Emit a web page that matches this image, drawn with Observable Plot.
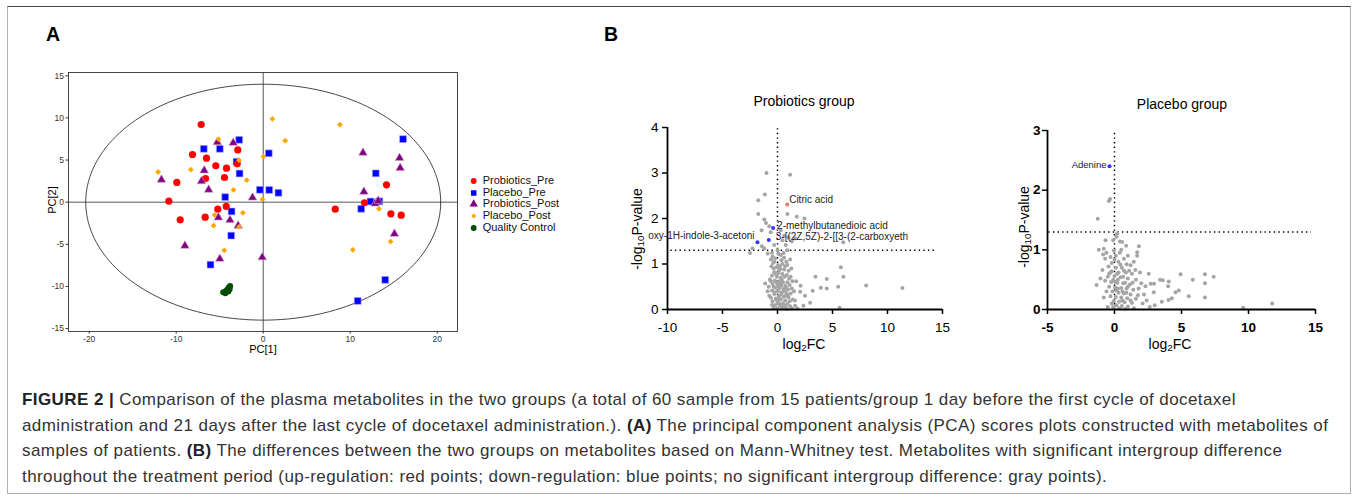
<!DOCTYPE html>
<html><head><meta charset="utf-8">
<script src="https://cdn.jsdelivr.net/npm/d3@7"></script>
<script src="https://cdn.jsdelivr.net/npm/@observablehq/plot@0.6"></script>
<style>
body{margin:0;background:#fff;}
#fig{position:relative;width:1358px;height:498px;overflow:hidden;font-family:"Liberation Sans",Arial,sans-serif;color:#000;}
.abs{position:absolute;}
.c{position:absolute;transform:translate(-50%,-50%);white-space:nowrap;line-height:1;}
.rot{position:absolute;transform:translate(-50%,-50%) rotate(-90deg);white-space:nowrap;line-height:1;}
sub{font-size:70%;vertical-align:-0.25em;line-height:0;}
#caption{position:absolute;left:22px;top:387px;font-size:17px;letter-spacing:0.42px;line-height:25.7px;color:#333;white-space:nowrap;}
#caption b{color:#222;}
.leg{position:absolute;left:468px;font-size:11px;line-height:1;white-space:nowrap;color:#111;}
.leg svg{position:absolute;left:0;top:-5px;overflow:visible;}
.leg span{position:absolute;left:14.7px;top:-6px;}
</style></head><body>
<div id="fig">
  <div class="abs" style="left:7px;top:6px;width:1344px;height:488px;box-sizing:border-box;border:1px solid #b0b0b0;border-top-color:#444;"></div>
  <div class="abs" style="left:46px;top:23px;font-size:19.5px;font-weight:bold;">A</div>
  <div class="abs" style="left:604px;top:23px;font-size:19.5px;font-weight:bold;">B</div>
  <div id="pca" class="abs" style="left:20px;top:60px;"></div>
  <div id="legend"></div>
  <div class="c" style="left:263px;top:349px;font-size:11px;">PC[1]</div>
  <div class="rot" style="left:52px;top:200px;font-size:11px;">PC[2]</div>
  <div id="prob" class="abs" style="left:600px;top:85px;"></div>
  <div id="pla" class="abs" style="left:990px;top:85px;"></div>
  <div class="c" style="left:804px;top:101px;font-size:14px;">Probiotics group</div>
  <div class="c" style="left:1182px;top:104px;font-size:14px;">Placebo group</div>
  <div class="rot" style="left:637px;top:229px;font-size:14px;">-log<sub>10</sub>P-value</div>
  <div class="rot" style="left:1024px;top:227px;font-size:14px;">-log<sub>10</sub>P-value</div>
  <div class="c" style="left:804px;top:344px;font-size:14px;">log<sub>2</sub>FC</div>
  <div class="c" style="left:1170px;top:344px;font-size:14px;">log<sub>2</sub>FC</div>
  <div id="caption"><b>FIGURE 2 |</b> Comparison of the plasma metabolites in the two groups (a total of 60 sample from 15 patients/group 1 day before the first cycle of docetaxel<br>administration and 21 days after the last cycle of docetaxel administration.). <b>(A)</b> The principal component analysis (PCA) scores plots constructed with metabolites of<br>samples of patients. <b>(B)</b> The differences between the two groups on metabolites based on Mann-Whitney test. Metabolites with significant intergroup difference<br>throughout the treatment period (up-regulation: red points; down-regulation: blue points; no significant intergroup difference: gray points).</div>
</div>
<script>
// ---------- Panel A data (PCA scores) ----------
const probioticsPre = [[-7.13,9.22],[-8.13,5.66],[-6.52,5.22],[-5.45,4.32],[-4.22,4.03],[-2.92,6.2],[-2.99,4.55],[-6.63,2.81],[-4.45,2.93],[-9.93,2.34],[-10.85,0.12],[-9.54,-2.09],[-6.67,-1.78],[-5.22,-0.83],[-4.25,-0.51],[14.17,2.06],[11.64,-0.07],[8.28,-0.83],[14.67,-1.38],[15.86,-1.54]];
const placeboPre = [[-6.83,6.33],[-4.99,6.33],[-2.76,7.4],[-3.07,4.8],[-2.72,3.4],[-4.37,0.6],[-3.64,-1.1],[-3.68,-3.97],[-6.06,-7.42],[-0.39,1.47],[0.69,1.45],[1.75,1.11],[0.64,5.8],[16.07,7.48],[12.94,3.42],[11.26,-0.79],[12.33,0.08],[13.35,0.1],[14.02,-9.22],[10.86,-11.72]];
const probioticsPost = [[-5.28,7.12],[-3.45,7.04],[-11.7,2.66],[-6.78,3.76],[-7.1,2.48],[-6.27,1.47],[-1.23,0.54],[-5.15,-1.82],[-3.82,-2.13],[-2.88,-2.79],[-9.0,-5.17],[-4.99,-6.73],[-0.11,-6.55],[11.47,5.86],[11.57,1.23],[15.67,5.25],[15.74,4.06],[12.85,-0.17],[13.22,0.16],[15.08,-3.76]];
const placeboPost = [[1.05,9.89],[8.81,9.2],[2.53,7.3],[-5.14,7.48],[-2.78,4.98],[0.02,5.41],[-12.08,3.58],[-8.32,3.86],[-1.9,2.61],[-3.41,1.45],[-0.08,0.32],[-5.58,-1.52],[-5.7,-2.79],[-2.34,-1.27],[-2.78,-2.91],[-4.48,-5.72],[13.3,-0.79],[14.64,-4.67],[10.3,-5.66]];
const qualityControl = [[-4.6,-10.7],[-4.35,-10.8],[-4.3,-10.55],[-4.0,-10.6],[-4.1,-10.35],[-3.95,-10.1],[-3.85,-10.3],[-3.8,-9.95]];
const pcaXTicks = [-20,-10,0,10,20];
const pcaYTicks = [-15,-10,-5,0,5,10,15];
const ellipseRadii = [20.4, 14.0]; // 95% confidence ellipse semi-axes (PC1, PC2)
const groupNames = ["Probiotics_Pre","Placebo_Pre","Probiotics_Post","Placebo_Post","Quality Control"];

// ---------- Panel B data (volcano plots) ----------
const probGray = [
[-1.0,3.0],[1.15,2.96],[-1.15,2.53],[-1.75,2.4],[-1.75,2.1],[0.9,2.1],[1.75,2.04],[2.45,2.0],
[-1.2,1.98],[-1.05,1.9],[-0.75,1.83],[-1.45,1.74],[-0.62,1.7],[0.3,1.74],[0.6,1.62],[1.0,1.58],[1.3,1.5],[0.45,1.52],[1.6,1.56],[5.97,1.48],
[-1.42,1.39],[-0.3,1.42],[0.75,1.42],[-2.27,1.34],[-2.5,1.24],[-1.2,1.34],[0.0,1.3],[0.9,1.3],[-0.9,1.23],[-0.45,1.16],[0.3,1.2],[0.6,1.14],[-0.3,1.05],[1.15,1.1],
[-0.5,1.25],[0.1,1.22],[0.55,1.24],[-0.2,1.12],[0.35,1.08],[0.8,1.05],[-0.4,1.02],[0.05,0.98],
[-0.55,0.95],[-0.1,0.93],[0.25,0.9],[0.6,0.88],[1.0,0.85],[-0.3,0.82],[0.1,0.8],[0.45,0.78],[0.85,0.76],[-0.5,0.74],[-0.05,0.72],[0.3,0.7],[1.2,0.72],[5.76,0.93],
[-0.7,0.66],[-0.25,0.64],[0.15,0.62],[0.5,0.6],[0.9,0.6],[1.35,0.62],[-0.45,0.56],[0.0,0.55],[0.35,0.53],[0.7,0.52],[1.1,0.54],[-0.8,0.5],[-0.2,0.48],[0.2,0.47],[0.55,0.45],[0.95,0.44],[1.3,0.46],[-0.5,0.42],[0.05,0.4],[-1.12,0.57],
[6.0,0.72],[3.45,0.72],[4.48,0.67],[3.94,0.48],[4.48,0.46],[5.52,0.5],[8.06,0.53],[11.36,0.47],[5.64,0.04],[2.97,0.15],[2.36,0.08],[3.2,0.41],[2.06,0.39],[1.58,0.2],[1.82,0.02],[2.1,0.52],[1.7,0.62],[2.5,0.3],
[0.4,0.38],[0.8,0.36],[1.2,0.35],[-0.3,0.34],[-0.75,0.3],[0.15,0.3],[0.55,0.28],[1.0,0.27],[-0.15,0.24],[0.3,0.22],[0.7,0.2],[1.4,0.22],[-0.45,0.18],[0.05,0.16],[0.5,0.14],[0.9,0.12],[-0.2,0.1],[0.25,0.08],[0.65,0.06],[1.15,0.07],[0.0,0.03],[0.4,0.02],[0.85,0.01],[-0.35,0.04],
[0.1,0.5],[0.4,0.65],[0.75,0.3],[-0.1,0.6],[0.6,0.1],[0.2,0.95],[1.25,0.9],[-0.25,0.38],
[-0.6,1.1],[0.45,1.0],[0.7,0.95],[-0.35,0.9],[0.9,0.98],[0.15,0.86],[-0.15,0.78],[0.65,0.72],[1.05,0.68],[-0.6,0.62],[0.25,0.57],[0.8,0.48],[-0.35,0.5],[1.5,0.4],[-0.6,0.26],[0.35,0.34],[1.1,0.18],[-0.05,0.2],[0.45,0.1],[0.75,0.04],[1.3,0.02],[-0.5,0.1],[0.2,0.12],[0.95,0.32],[-0.9,0.4],[1.6,0.08],[0.6,0.42],[0.1,0.26]
];
const probUp = [{x:0.88, y:2.31, name:"Citric acid"}];
const probDown = [
  {x:-0.4, y:1.79, name:"2-methylbutanedioic acid"},
  {x:-0.79, y:1.53, name:"3-[(2Z,5Z)-2-[[3-(2-carboxyeth"},
  {x:-1.82, y:1.48, name:"oxy-1H-indole-3-acetoni"}
];
const plaGray = [
[-0.42,1.82],[-0.33,1.85],[-1.25,1.52],[0.2,1.28],[0.15,1.22],[-0.67,1.16],[-0.1,1.16],[0.4,1.14],[0.57,1.13],[0.87,1.07],[1.82,1.06],
[-1.17,1.0],[-0.8,1.02],[-0.6,0.95],[-0.85,0.92],[-0.05,0.99],[1.69,0.96],[1.69,0.9],[-0.3,0.88],[0.7,0.85],[-0.7,0.85],[0.0,0.84],[1.44,0.8],[0.3,0.8],[-0.2,0.78],[0.9,0.76],[1.2,0.74],[-0.45,0.72],[0.1,0.7],[0.55,0.7],[1.55,0.66],[-0.9,0.66],
[-0.2,0.64],[0.3,0.62],[0.85,0.62],[1.3,0.6],[2.56,0.6],[4.93,0.59],[6.75,0.59],[7.4,0.55],[5.84,0.5],[-1.05,0.52],[-0.5,0.55],[0.0,0.56],[0.45,0.54],[1.0,0.52],[1.6,0.5],[3.4,0.5],[3.6,0.49],[4.05,0.47],[6.75,0.44],
[-1.34,0.41],[-0.7,0.48],[-0.25,0.46],[0.2,0.45],[0.65,0.44],[1.15,0.42],[2.0,0.44],[2.7,0.43],[2.95,0.43],[2.31,0.39],[4.0,0.39],[-0.4,0.38],[0.05,0.37],[0.5,0.36],[0.9,0.35],[1.4,0.33],[4.8,0.32],[4.55,0.29],[2.93,0.29],
[-0.15,0.3],[0.3,0.28],[0.7,0.27],[1.2,0.25],[1.75,0.24],[-0.3,0.22],[0.1,0.21],[0.5,0.2],[0.95,0.19],[5.54,0.22],[6.75,0.2],[4.28,0.19],[4.03,0.16],[3.53,0.13],[1.6,0.18],
[-0.05,0.14],[0.35,0.13],[0.75,0.12],[1.3,0.11],[2.1,0.1],[0.15,0.07],[0.55,0.06],[1.0,0.05],[-0.1,0.04],[0.35,0.02],[0.8,0.01],[1.45,0.02],[2.63,0.04],[9.6,0.03],[11.77,0.1],
[0.2,0.6],[0.6,0.3],[-0.1,0.5],[0.4,0.95],[0.25,0.35],[0.7,0.65],
[-0.6,0.3],[-0.8,0.2],[-0.4,0.6],[0.1,0.9],[0.5,1.0],[1.0,0.9],[0.8,0.45],[0.45,0.75],[1.1,0.65],[0.25,0.5],[-0.2,0.1],[0.6,0.15],[1.8,0.35],[2.2,0.25],[1.35,0.45],[0.15,0.32],[0.9,0.28],[-0.3,0.62],[0.05,0.46],[1.2,0.15],[-0.5,0.04],[0.65,0.55],[2.4,0.15],[3.0,0.07],[1.9,0.62],[1.0,0.38]
];
const plaDown = [{x:-0.37, y:2.4, name:"Adenine"}];
const probXTicks = [-10,-5,0,5,10,15];
const probYTicks = [0,1,2,3,4];
const plaXTicks = [-5,0,5,10,15];
const plaYTicks = [0,1,2,3];
const pThreshold = 1.3; // -log10(0.05)

const FONT = "'Liberation Sans', Arial, sans-serif";
const px = d => d[0], py = d => d[1];
const fmt = d => String(d);

// ---------- Panel A ----------
const ellipse = d3.range(0, 361, 2).map(a => ({x: ellipseRadii[0]*Math.cos(a*Math.PI/180), y: ellipseRadii[1]*Math.sin(a*Math.PI/180)}));
const pca = Plot.plot({
  width: 450, height: 300, marginLeft: 48, marginRight: 13, marginTop: 12, marginBottom: 29,
  x: {domain: [-22.38, 22.33]}, y: {domain: [-15.35, 15.39]},
  style: {fontFamily: FONT, fontSize: "8.5px", color: "#333", background: "transparent", overflow: "visible"},
  marks: [
    Plot.frame({stroke: "#333", strokeWidth: 0.9}),
    Plot.ruleX([0], {stroke: "#444", strokeWidth: 0.9}),
    Plot.ruleY([0], {stroke: "#444", strokeWidth: 0.9}),
    Plot.line(ellipse, {x: "x", y: "y", stroke: "#333", strokeWidth: 0.9}),
    Plot.dot(placeboPre, {x: px, y: py, symbol: "square", r: 3.85, fill: "#0000ff", stroke: "#a8a8ff", strokeWidth: 0.6}),
    Plot.dot(probioticsPre, {x: px, y: py, symbol: "circle", r: 3.6, fill: "#ff0000"}),
    Plot.dot(probioticsPost, {x: px, y: py, symbol: "triangle", r: 3.2, fill: "#800080", stroke: "#c9a0c9", strokeWidth: 0.6}),
    Plot.dot(placeboPost, {x: px, y: py, symbol: "diamond2", r: 2.6, fill: "#ffa500"}),
    Plot.dot(qualityControl, {x: px, y: py, symbol: "circle", r: 3, fill: "#004d00"}),
    Plot.axisX({ticks: pcaXTicks, tickFormat: fmt, tickSize: 2.5, tickPadding: 1.5, label: null}),
    Plot.axisY({ticks: pcaYTicks, tickFormat: fmt, tickSize: 2.5, tickPadding: 2, label: null})
  ]
});
document.getElementById("pca").appendChild(pca);

// legend
const legSyms = [
  {type: d3.symbolCircle, size: 26, fill: "#ff0000"},
  {type: d3.symbolSquare, size: 30, fill: "#0000ff"},
  {type: d3.symbolTriangle, size: 30, fill: "#800080"},
  {type: d3.symbolDiamond2, size: 16, fill: "#ffa500"},
  {type: d3.symbolCircle, size: 26, fill: "#004d00"}
];
const legend = d3.select("#legend");
groupNames.forEach((name, i) => {
  const row = legend.append("div").attr("class", "leg").style("top", (181 + i*11.7) + "px");
  const svg = row.append("svg").attr("width", 10).attr("height", 10);
  svg.append("path").attr("transform", "translate(5.7,5)").attr("d", d3.symbol(legSyms[i].type, legSyms[i].size)()).attr("fill", legSyms[i].fill);
  row.append("span").text(name);
});

// ---------- Panel B: Probiotics ----------
const dotted = {stroke: "#000", strokeWidth: 1.5, strokeDasharray: "1.4,3.2"};
const prob = Plot.plot({
  width: 360, height: 275, marginLeft: 67, marginRight: 18, marginTop: 42, marginBottom: 51,
  x: {domain: [-10, 15]}, y: {domain: [0, 4]},
  style: {fontFamily: FONT, fontSize: "13.5px", color: "#000", background: "transparent", overflow: "visible"},
  marks: [
    Plot.ruleX([0], {y1: 0, y2: 4, ...dotted}),
    Plot.ruleY([pThreshold], {x1: -9.7, x2: 14.5, ...dotted}),
    Plot.dot(probGray, {x: px, y: py, r: 2, fill: "#a5a5a5"}),
    Plot.dot(probUp, {x: "x", y: "y", r: 2, fill: "#f07474"}),
    Plot.dot(probDown, {x: "x", y: "y", r: 2, fill: "#3434ff"}),
    Plot.text(probUp, {x: "x", y: "y", text: "name", textAnchor: "start", dx: 2, dy: -5, fontSize: 10, fill: "#222"}),
    Plot.text(probDown.slice(0,1), {x: "x", y: "y", text: "name", textAnchor: "start", dx: 4, dy: -2, fontSize: 10, fill: "#222"}),
    Plot.text(probDown.slice(1,2), {x: "x", y: "y", text: "name", textAnchor: "start", dx: 7, dy: -3.5, fontSize: 10, fill: "#222"}),
    Plot.text(probDown.slice(2,3), {x: "x", y: "y", text: "name", textAnchor: "end", dx: -3, dy: -6, fontSize: 10, fill: "#222"}),
    Plot.ruleY([0], {x1: -10, x2: 15, stroke: "#000", strokeWidth: 1.8}),
    Plot.ruleX([-10], {y1: 0, y2: 4, stroke: "#000", strokeWidth: 1.8}),
    Plot.axisX({ticks: probXTicks, tickFormat: fmt, tickSize: 5, tickPadding: 8, strokeWidth: 1.5, label: null}),
    Plot.axisY({ticks: probYTicks, tickFormat: fmt, tickSize: 5, tickPadding: 4, strokeWidth: 1.5, label: null})
  ]
});
document.getElementById("prob").appendChild(prob);

// ---------- Panel B: Placebo ----------
const pla = Plot.plot({
  width: 350, height: 275, marginLeft: 57, marginRight: 25, marginTop: 45, marginBottom: 51,
  x: {domain: [-5, 15]}, y: {domain: [0, 3]},
  style: {fontFamily: FONT, fontSize: "13.5px", fontWeight: "bold", color: "#000", background: "transparent", overflow: "visible"},
  marks: [
    Plot.ruleX([0], {y1: 0, y2: 3, ...dotted}),
    Plot.ruleY([pThreshold], {x1: -4.9, x2: 14.7, ...dotted}),
    Plot.dot(plaGray, {x: px, y: py, r: 2, fill: "#a5a5a5"}),
    Plot.dot(plaDown, {x: "x", y: "y", r: 2, fill: "#3434ff"}),
    Plot.text(plaDown, {x: "x", y: "y", text: "name", textAnchor: "end", dx: -3, dy: -1, fontSize: 9.5, fontWeight: "normal", fill: "#222"}),
    Plot.ruleY([0], {x1: -5, x2: 15, stroke: "#000", strokeWidth: 1.8}),
    Plot.ruleX([-5], {y1: 0, y2: 3, stroke: "#000", strokeWidth: 1.8}),
    Plot.axisX({ticks: plaXTicks, tickFormat: fmt, tickSize: 5, tickPadding: 8, strokeWidth: 1.5, label: null}),
    Plot.axisY({ticks: plaYTicks, tickFormat: fmt, tickSize: 5, tickPadding: 2, strokeWidth: 1.5, label: null})
  ]
});
document.getElementById("pla").appendChild(pla);
</script>
</body></html>
